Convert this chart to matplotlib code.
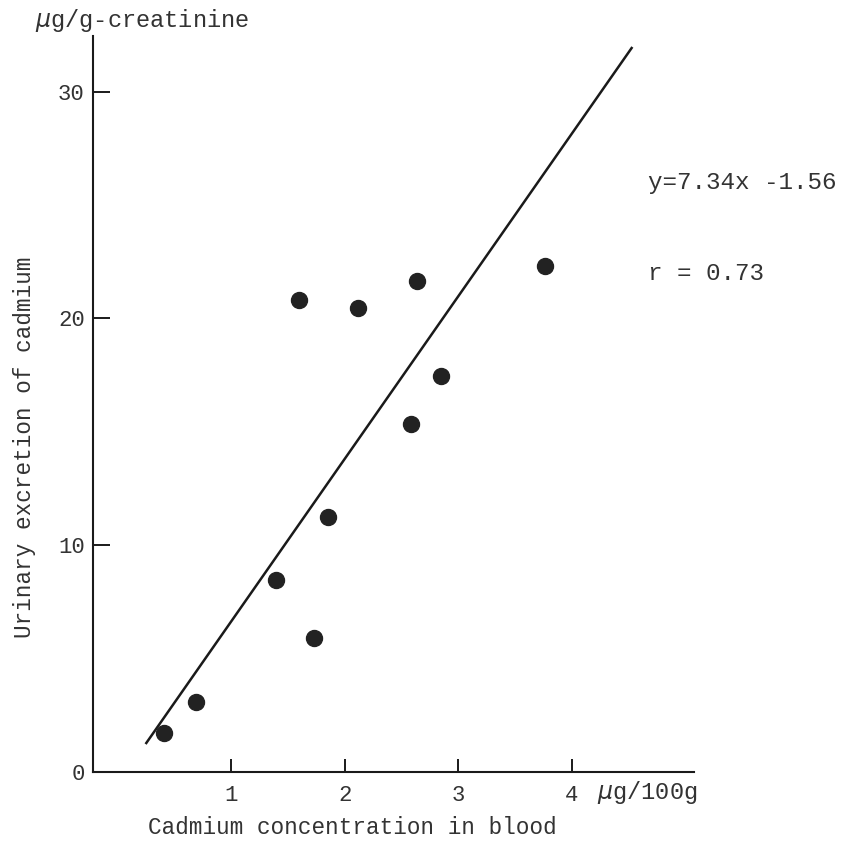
import matplotlib.pyplot as plt

# blood Cd (ug/100g) vs urinary Cd (ug/g-creatinine)
blood_cd = [0.41, 0.69, 1.39, 1.73, 1.85, 1.60, 2.12, 2.58, 2.64, 2.85, 3.77]
urine_cd = [1.71, 3.08, 8.46, 5.90, 11.24, 20.82, 20.46, 15.34, 21.65, 17.46, 22.31]

# regression line as drawn in the figure (end points)
fit_x = [0.25, 4.53]
fit_y = [1.27, 31.93]

x_ticks = [1, 2, 3, 4]
y_ticks = [0, 10, 20, 30]

W, H = 846, 848
font = 'Liberation Mono'
ink = '#1a1a1a'

fig = plt.figure(figsize=(W / 100, H / 100), dpi=100)
ax = fig.add_axes([93 / W, 1 - 771.8 / H, (694 - 93) / W, (771.8 - 36) / H])

ax.plot(fit_x, fit_y, color=ink, lw=1.8)
ax.plot(blood_cd, urine_cd, 'o', color='#222222', markersize=11.5)

ax.set_xlim(-0.22, 5.08)
ax.set_ylim(0, 32.46)
ax.set_xticks(x_ticks)
ax.set_yticks(y_ticks)
ax.set_xticklabels([str(t) for t in x_ticks], fontfamily=font, fontsize=16, color='#333333')
ax.set_yticklabels([str(t) for t in y_ticks], fontfamily=font, fontsize=16, color='#333333')
ax.tick_params(axis='x', direction='in', length=9.5, width=1.4, pad=9.5, color=ink)
ax.tick_params(axis='y', direction='in', length=12, width=1.4, pad=6, color=ink)

for s in ['top', 'right']:
    ax.spines[s].set_visible(False)
for s in ['left', 'bottom']:
    ax.spines[s].set_linewidth(1.5)
    ax.spines[s].set_color(ink)

txt = dict(fontfamily=font, color='#333333')
fig.text(35 / W, 1 - 21 / H, r'$\mu$g/g-creatinine', fontsize=17, ha='left', va='center', **txt)
fig.text(597 / W, 1 - 793 / H, r'$\mu$g/100g', fontsize=17, ha='left', va='center', **txt)
fig.text(352 / W, 1 - 828 / H, 'Cadmium concentration in blood', fontsize=16.3,
         ha='center', va='center', **txt)
fig.text(25 / W, 1 - 447 / H, 'Urinary excretion of cadmium', fontsize=16.3,
         rotation=90, ha='center', va='center', **txt)
fig.text(648 / W, 1 - 183 / H, 'y=7.34x -1.56', fontsize=17.5, ha='left', va='center', **txt)
fig.text(648 / W, 1 - 273 / H, 'r = 0.73', fontsize=17.5, ha='left', va='center', **txt)

fig.savefig('out.png', dpi=100)
